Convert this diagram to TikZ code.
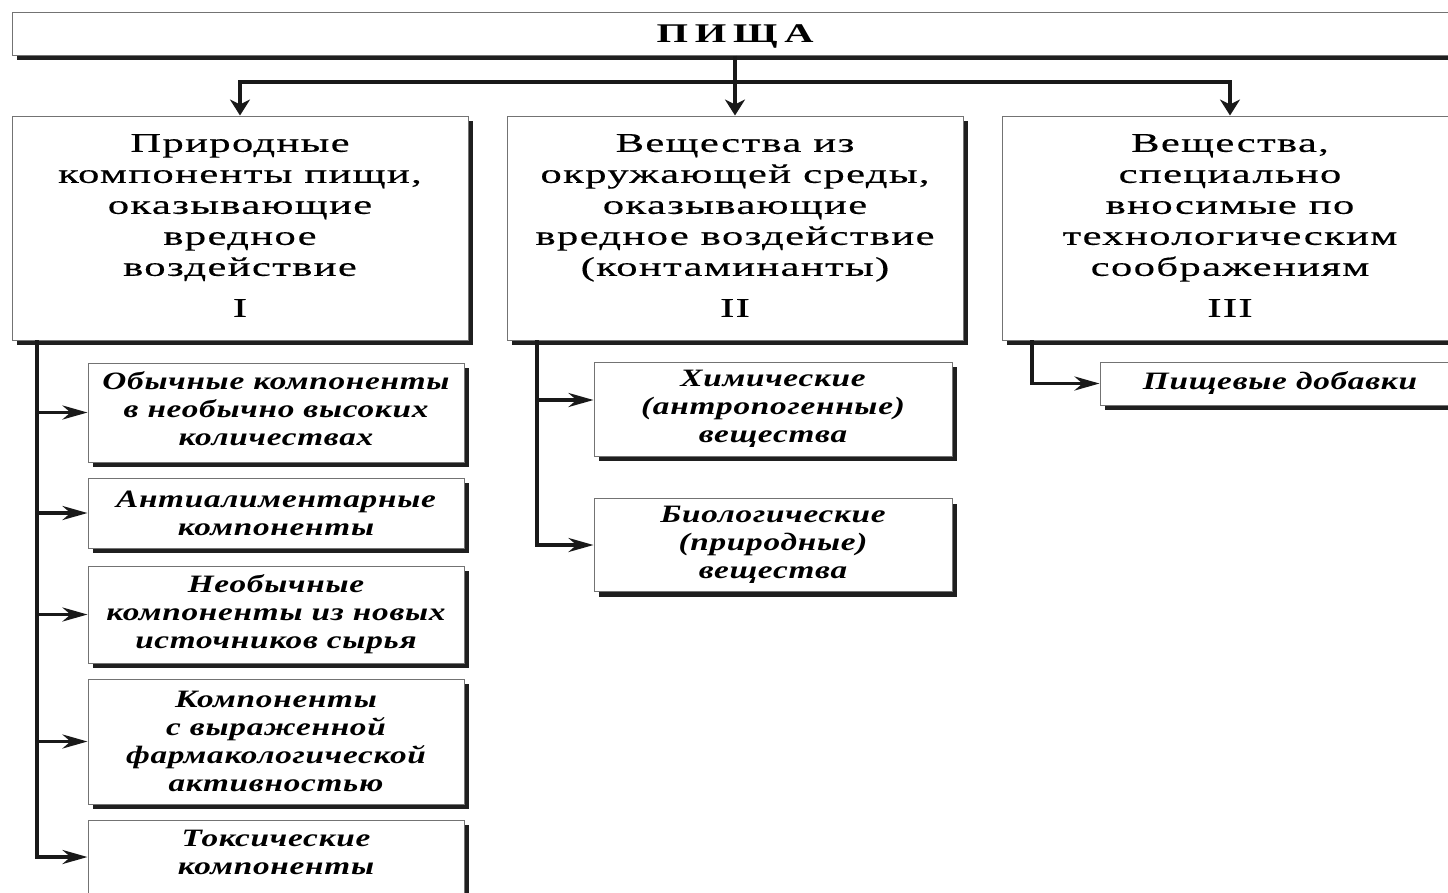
\documentclass[tikz,border=0pt]{standalone}
\usepackage{fontspec}
\setmainfont{Liberation Serif}
\newfontfamily\upf{Liberation Serif}[FakeStretch=1.58,LetterSpace=5,FakeBold=0.4]
\newfontfamily\itf{Liberation Serif}[FakeStretch=1.33,LetterSpace=3]
\newfontfamily\hdf{Liberation Serif}[FakeStretch=1.5,LetterSpace=25]
\usetikzlibrary{arrows.meta,shadows}
\begin{document}
\begin{tikzpicture}[x=1pt,y=-1pt,
  box/.style={draw=black!55, line width=1pt, fill=white, inner sep=0pt,
    drop shadow={shadow xshift=5pt,shadow yshift=-5pt,fill=black!88,opacity=1}},
  big/.style={box, minimum width=456pt, minimum height=224pt, align=center,
    text depth=5pt, font=\upf\fontsize{27}{31}\selectfont},
  sub/.style={box, align=center, font=\itf\bfseries\itshape\fontsize{25}{28}\selectfont},
  conn/.style={line width=3.5pt, black!90},
  arr/.style={conn, -{Stealth[length=16pt,width=20pt,inset=5pt]}},
  harr/.style={conn, -{Stealth[length=25pt,width=14pt,inset=8pt]}}]
\useasboundingbox (0,0) rectangle (1448,892);

\node[box, minimum width=1446pt, minimum height=43pt, text height=24pt,
  font=\hdf\bfseries\fontsize{27}{31}\selectfont] (food) at (735,33.5) {ПИЩА};

\node[big] (n1) at (240,228) {Природные\\компоненты пищи,\\оказывающие\\вредное\\воздействие\\[10pt]I};
\node[big] (n2) at (735,228) {Вещества из\\окружающей среды,\\оказывающие\\вредное воздействие\\(контаминанты)\\[10pt]II};
\node[big] (n3) at (1230,228) {Вещества,\\специально\\вносимые по\\технологическим\\соображениям\\[10pt]III};

\node[sub, minimum width=376pt, minimum height=99pt, text depth=8pt] (c1) at (276,412.5) {Обычные компоненты\\в необычно высоких\\количествах};
\node[sub, minimum width=376pt, minimum height=70pt] (c2) at (276,513) {Антиалиментарные\\компоненты};
\node[sub, minimum width=376pt, minimum height=97pt] (c3) at (276,614.5) {Необычные\\компоненты из новых\\источников сырья};
\node[sub, minimum width=376pt, minimum height=125pt] (c4) at (276,741.5) {Компоненты\\с выраженной\\фармакологической\\активностью};
\node[sub, minimum width=376pt, minimum height=74pt, text depth=10pt] (c5) at (276,857) {Токсические\\компоненты};

\node[sub, minimum width=358pt, minimum height=94pt] (chem) at (773,409) {Химические\\(антропогенные)\\вещества};
\node[sub, minimum width=358pt, minimum height=93pt] (bio) at (773,545) {Биологические\\(природные)\\вещества};

\node[sub, minimum width=360pt, minimum height=43pt] (add) at (1280,383.5) {Пищевые добавки};

% top connectors
\coordinate (j) at (735,82);
\draw[conn] (food.south) -- (j);
\draw[arr] (j) -- (n2.north);
\draw[arr] (j) -| (n1.north);
\draw[arr] (j) -| (n3.north);

% group I
\coordinate (t1) at (37,340);
\draw[harr] (t1) |- (c5.west);
\draw[harr] (t1 |- c1.west) -- (c1.west);
\draw[harr] (t1 |- c2.west) -- (c2.west);
\draw[harr] (t1 |- c3.west) -- (c3.west);
\draw[harr] (t1 |- c4.west) -- (c4.west);

% group II
\coordinate (t2) at (537,340);
\draw[harr] (t2) |- (bio.west);
\draw[harr] (t2 |- 0,400) -- (chem.west |- 0,400);

% group III
\coordinate (t3) at (1032,340);
\draw[harr] (t3) |- (add.west);
\end{tikzpicture}
\end{document}
